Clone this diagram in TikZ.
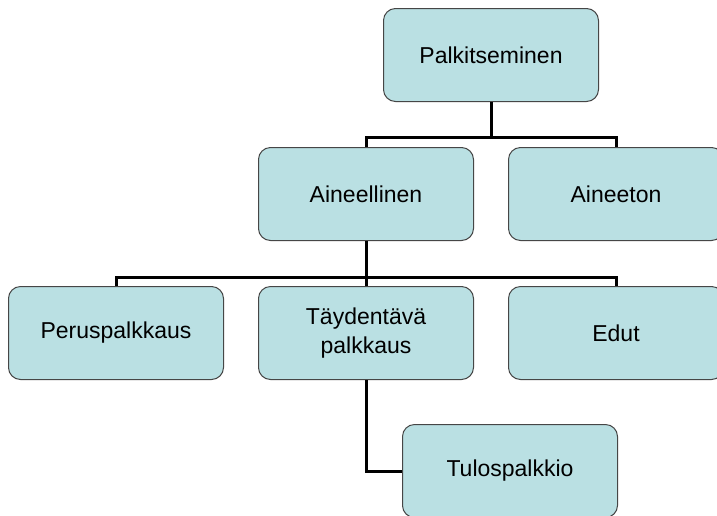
\documentclass[tikz,border=0pt]{standalone}
\usepackage{fontspec}
\setmainfont{Liberation Sans}
\definecolor{boxfill}{RGB}{186,224,227}
\definecolor{boxline}{RGB}{70,70,70}
\begin{document}
\begin{tikzpicture}[x=1pt,y=-1pt,
  orgbox/.style={draw=boxline, line width=1pt, fill=boxfill, rounded corners=12pt,
    minimum width=215pt, minimum height=93pt, inner sep=0pt, align=center,
    font=\fontsize{23}{29}\selectfont},
  link/.style={line width=3pt, black}]
  \useasboundingbox (0,0) rectangle (717,515);
  \fill[white] (0,0) rectangle (717,515);
  \clip (0,0) rectangle (717,515);

  \node[orgbox] (pal)   at (491,55)  {Palkitseminen};
  \node[orgbox] (aine)  at (366,194) {Aineellinen};
  \node[orgbox] (aton)  at (616,194) {Aineeton};
  \node[orgbox] (peru)  at (116,333) {Peruspalkkaus};
  \node[orgbox] (tayd)  at (366,333) {Täydentävä\\palkkaus};
  \node[orgbox] (edut)  at (616,333) {Edut};
  \node[orgbox] (tulos) at (510,471) {Tulospalkkio};

  \coordinate (bus1) at (491,137);
  \coordinate (bus2) at (366,277);

  \draw[link] (pal.south) -- (bus1);
  \draw[link] (aine.north) |- (bus1) -| (aton.north);
  \draw[link] (aine.south) -- (bus2);
  \draw[link] (peru.north) |- (bus2) -| (edut.north);
  \draw[link] (tayd.north) -- (bus2);
  \draw[link] (tayd.south) |- (tulos.west);
\end{tikzpicture}
\end{document}
